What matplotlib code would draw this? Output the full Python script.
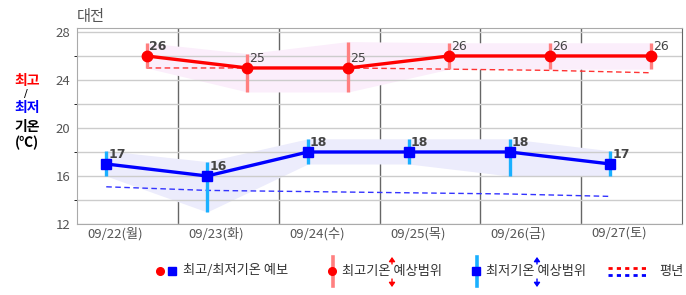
import matplotlib
matplotlib.use("Agg")
import matplotlib.pyplot as plt
from matplotlib.lines import Line2D
from matplotlib.patches import FancyArrowPatch
import numpy as np

plt.rcParams['font.family'] = ['Noto Sans CJK KR', 'DejaVu Sans']

days = ["09/22(월)", "09/23(화)", "09/24(수)", "09/25(목)", "09/26(금)", "09/27(토)"]
tmax = [26, 25, 25, 26, 26, 26]
tmax_hi = [27.1, 26.2, 27.2, 27.1, 27.1, 27.1]
tmax_lo = [25.0, 23.0, 23.0, 24.9, 24.9, 24.9]
tmax_normal = [25.0, 25.0, 25.0, 24.9, 24.8, 24.6]
tmin = [17, 16, 18, 18, 18, 17]
tmin_hi = [18.1, 17.2, 19.1, 19.1, 19.1, 18.1]
tmin_lo = [16.0, 13.0, 17.0, 17.0, 16.0, 16.0]
tmin_normal = [15.1, 14.8, 14.7, 14.6, 14.5, 14.3]
yticks = [12, 16, 20, 24, 28]

W, H = 686, 295
fig = plt.figure(figsize=(W / 100, H / 100), dpi=100)

def fx(x):
    return x / W

def fy(y):
    return 1 - y / H

ax = fig.add_axes([fx(77), fy(224), fx(682) - fx(77), fy(28) - fy(224)])
idx = np.arange(len(days))
xr = idx + 0.19
xb = idx - 0.21

ax.set_xlim(-0.5, len(days) - 0.5)
ax.set_ylim(12, 28.33)

# grid
ax.set_yticks(yticks)
ax.set_yticks(np.arange(14, 28, 4), minor=True)
ax.grid(axis='y', which='both', color='#cccccc', lw=1, zorder=0)
for b in idx[:-1] + 0.5:
    ax.axvline(b, color='#666666', lw=1, zorder=0.5)
for s in ['left', 'bottom', 'top']:
    ax.spines[s].set_color('#aaaaaa')
ax.spines['right'].set_color('#666666')
ax.tick_params(length=0, colors='#555555', labelsize=9.5)
ax.tick_params(axis='x', pad=2)
ax.tick_params(axis='y', pad=5)
ax.set_xticks(idx - 0.12)
ax.set_xticklabels(days)
ax.set_yticklabels([str(v) for v in yticks])

# bands
ax.fill_between(xr, tmax_lo, tmax_hi, color='#fbeefb', lw=0, zorder=1)
ax.fill_between(xb, tmin_lo, tmin_hi, color='#ececfc', lw=0, zorder=1)
# normals
ax.plot(xr, tmax_normal, color='#ff3333', lw=1, ls=(0, (4, 2.5)), zorder=2)
ax.plot(xb, tmin_normal, color='#3333ff', lw=1, ls=(0, (4, 2.5)), zorder=2)
# range bars
ax.vlines(xr, tmax_lo, tmax_hi, color='#ff8080', lw=2.4, zorder=3)
ax.vlines(xb, tmin_lo, tmin_hi, color='#1ab0ff', lw=2.4, zorder=3)
# lines
ax.plot(xr, tmax, color='#ff0000', lw=2.4, marker='o', ms=7.5, zorder=4)
ax.plot(xb, tmin, color='#0000ff', lw=2.4, marker='s', ms=7.5, mec='#0000ff', zorder=4)

for i, (x, v) in enumerate(zip(xr, tmax)):
    ax.annotate(str(v), (x, v), xytext=(2, 3), textcoords='offset pixels',
                ha='left', va='bottom', fontsize=9, color='#444444',
                fontweight='bold' if i == 0 else 'normal', zorder=5,
                family='DejaVu Sans')
for x, v in zip(xb, tmin):
    ax.annotate(str(v), (x, v), xytext=(2, 3), textcoords='offset pixels',
                ha='left', va='bottom', fontsize=9, color='#444444',
                fontweight='bold', zorder=5, family='DejaVu Sans')

# title
fig.text(fx(77), fy(17), "대전", fontsize=11, color='#555555', ha='left', va='center')

# left label
fig.text(fx(27), fy(81), "최고", fontsize=10, color='#ff0000', fontweight='bold', ha='center', va='center')
fig.text(fx(26), fy(94), "/", fontsize=8, color='#000000', ha='center', va='center', family='DejaVu Sans')
fig.text(fx(27), fy(108), "최저", fontsize=10, color='#0000ff', fontweight='bold', ha='center', va='center')
fig.text(fx(27), fy(127), "기온", fontsize=10, color='#000000', fontweight='bold', ha='center', va='center')
fig.text(fx(27), fy(143), "(℃)", fontsize=10, color='#000000', fontweight='bold', ha='center', va='center')

# legend
ly = 271
def fline(x0, y0, x1, y1, **kw):
    fig.add_artist(Line2D([fx(x0), fx(x1)], [fy(y0), fy(y1)], transform=fig.transFigure, **kw))

def fmark(x, y, **kw):
    fig.add_artist(Line2D([fx(x)], [fy(y)], transform=fig.transFigure, ls='none', **kw))

fmark(160, ly, marker='o', ms=5.5, color='#ff0000')
fmark(172, ly, marker='s', ms=5.5, color='#0000ff')
fig.text(fx(183), fy(ly), "최고/최저기온 예보", fontsize=9.5, color='#333333', ha='left', va='center')

fline(333, 257, 333, 286, color='#ff8080', lw=2.6)
fmark(332, ly, marker='o', ms=5.5, color='#ff0000')
fig.text(fx(342), fy(ly), "최고기온 예상범위", fontsize=9.5, color='#333333', ha='left', va='center')
for (y0, y1) in [(264, 257), (279, 287)]:
    fig.add_artist(FancyArrowPatch((fx(392), fy(y0)), (fx(392), fy(y1)), transform=fig.transFigure,
                                   arrowstyle='-|>,head_length=2.5,head_width=1.8', color='#ff0000', lw=1,
                                   shrinkA=0, shrinkB=0))

fline(477, 257, 477, 286, color='#1ab0ff', lw=2.6)
fmark(476, ly, marker='s', ms=5.5, color='#0000ff')
fig.text(fx(486), fy(ly), "최저기온 예상범위", fontsize=9.5, color='#333333', ha='left', va='center')
for (y0, y1) in [(264, 257), (279, 287)]:
    fig.add_artist(FancyArrowPatch((fx(537), fy(y0)), (fx(537), fy(y1)), transform=fig.transFigure,
                                   arrowstyle='-|>,head_length=2.5,head_width=1.8', color='#0000ff', lw=1,
                                   shrinkA=0, shrinkB=0))

fline(608, 268, 647, 268, color='#ff0000', lw=2, ls=(0, (1.5, 1.5)))
fline(608, 275, 647, 275, color='#0000ff', lw=2, ls=(0, (1.5, 1.5)))
fig.text(fx(659), fy(ly), "평년", fontsize=9.5, color='#333333', ha='left', va='center')

fig.savefig("out.png", dpi=100)
